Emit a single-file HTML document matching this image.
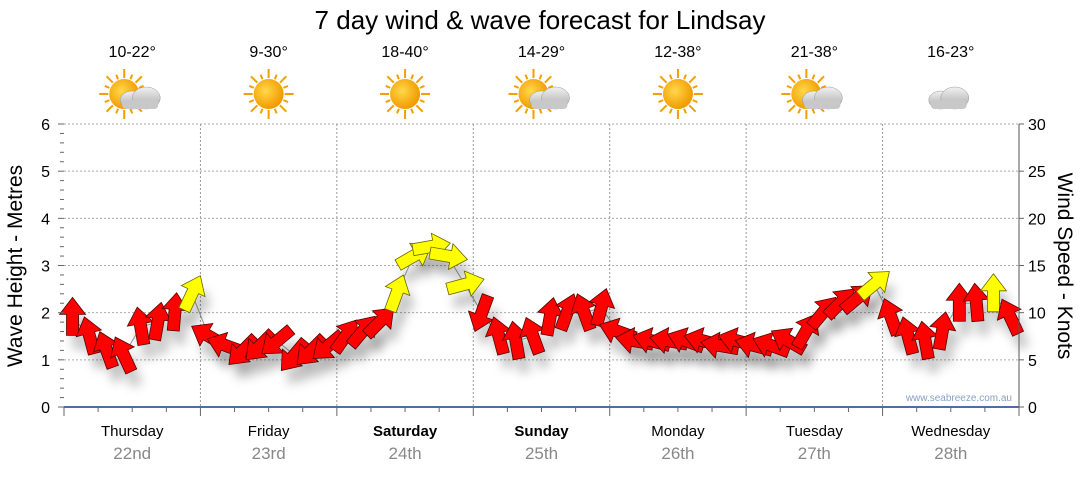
<!DOCTYPE html>
<html><head><meta charset="utf-8"><style>
body{margin:0;background:#fff;font-family:"Liberation Sans",sans-serif}
svg text{font-family:"Liberation Sans",sans-serif}
</style></head><body>
<svg id="c" width="1080" height="475" xmlns="http://www.w3.org/2000/svg">
<defs>
<filter id="sh" x="-50%" y="-50%" width="200%" height="200%"><feGaussianBlur stdDeviation="5"/></filter>
<radialGradient id="sun" cx="40%" cy="40%" r="60%"><stop offset="0" stop-color="#ffd84a"/><stop offset="1" stop-color="#f29a00"/></radialGradient>
<linearGradient id="cl" x1="0" y1="0" x2="0" y2="1"><stop offset="0" stop-color="#f0f0f0"/><stop offset="1" stop-color="#a8a8a8"/></linearGradient>
</defs>
<text x="540" y="29" font-size="26" text-anchor="middle" fill="#000">7 day wind &amp; wave forecast for Lindsay</text>
<g id="grid"></g>
<g id="marks"></g>
<g id="axes"></g>
<text x="1012" y="401" font-size="10" text-anchor="end" fill="#8aa0c0">www.seabreeze.com.au</text>
<text transform="translate(22,266) rotate(-90)" font-size="21" text-anchor="middle">Wave Height - Metres</text>
<text transform="translate(1058,266) rotate(90)" font-size="21" text-anchor="middle">Wind Speed - Knots</text>
</svg>
<script>
const days=["Thursday","Friday","Saturday","Sunday","Monday","Tuesday","Wednesday"];
const dates=["22nd","23rd","24th","25th","26th","27th","28th"];
const boldDays=[false,false,true,true,false,false,false];
const temps=["10-22°","9-30°","18-40°","14-29°","12-38°","21-38°","16-23°"];
const icons=["suncloud","sun","sun","suncloud","sun","suncloud","cloud"];
const leftTicks=[0,1,2,3,4,5,6];
const rightTicks=[0,5,10,15,20,25,30];
const windKnots=[9.5,7.5,6,5.5,8.5,9,10,12, 7.5,6.5,6,6.5,7,5.5,6,6.5, 7.5,8,9,12,16,17,16,13, 10,7.5,7,7.5,9.5,10,10,10.5, 8,7,7,7,7,7,6.5,7, 6.5,6.5,7,8,10,11,11.5,13, 9.5,7.5,7,8,11,11,12,9.5];
const windDir=[0,345,340,335,350,10,5,25, 300,290,225,225,230,220,225,230, 35,40,45,20,60,80,100,75, 200,345,350,340,10,20,340,15, 290,280,285,280,290,285,280,285, 285,290,300,30,40,45,50,50, 340,345,350,10,0,355,0,335];
const windColor=["r","r","r","r","r","r","r","y", "r","r","r","r","r","r","r","r", "r","r","r","y","y","y","y","y", "r","r","r","r","r","r","r","r", "r","r","r","r","r","r","r","r", "r","r","r","r","r","r","r","y", "r","r","r","r","r","r","y","r"];
const NS="http://www.w3.org/2000/svg";
const X0=64,X1=1019,Y0=407,Y1=124;
const dayW=(X1-X0)/7;
const yM=v=>Y0-(Y0-Y1)*v/6, yK=v=>Y0-(Y0-Y1)*v/30, xT=h=>X0+dayW*h/24;
function el(t,a,p){const e=document.createElementNS(NS,t);for(const k in a)e.setAttribute(k,a[k]);(p||document.getElementById('c')).appendChild(e);return e;}
const grid=document.getElementById('grid'),axes=document.getElementById('axes'),marks=document.getElementById('marks');
leftTicks.forEach(v=>{
 if(v>0){const g=el('line',{x1:X0,x2:X1,y1:yM(v),y2:yM(v),stroke:'#aaa','stroke-dasharray':'2,2'},grid);
 
 }
 const t=el('text',{x:50,y:yM(v)+6,'font-size':16,'text-anchor':'end'},axes);t.textContent=v;
 
 
});
for(let v=0;v<=6.001;v+=0.2){el('line',{x1:X0-(Math.abs(v-Math.round(v))<0.01?6:4),x2:X0,y1:yM(v),y2:yM(v),stroke:'#666'},axes);}
rightTicks.forEach(v=>{
 const t=el('text',{x:1028,y:yK(v)+6,'font-size':16},axes);t.textContent=v;
 
 
 el('line',{x1:X1,x2:X1+5,y1:yK(v),y2:yK(v),stroke:'#666'},axes);
});
for(let d=1;d<7;d++){const g=el('line',{x1:xT(d*24),x2:xT(d*24),y1:Y1,y2:Y0,stroke:'#999','stroke-dasharray':'2,2'},grid);
 
 }
el('line',{x1:X1,x2:X1,y1:Y1,y2:Y0,stroke:'#555'},axes);
el('line',{x1:X0,x2:X1,y1:Y0,y2:Y0,stroke:'#4a6fa0','stroke-width':2},axes);
for(let h=0;h<=168;h+=6){el('line',{x1:xT(h),x2:xT(h),y1:Y0,y2:Y0+(h%24?5:9),stroke:'#666'},axes);}
days.forEach((d,i)=>{
 const cx=xT(i*24+12);
 const a=el('text',{x:cx,y:436,'font-size':15,'text-anchor':'middle','font-weight':boldDays[i]?'bold':'normal'},axes);a.textContent=d;
 
 
 const b=el('text',{x:cx,y:459,'font-size':17,'text-anchor':'middle',fill:'#888'},axes);b.textContent=dates[i];
 
 
 const t=el('text',{x:cx,y:57,'font-size':16,'text-anchor':'middle'},axes);t.textContent=temps[i];
 
 
 const g=el('g',{transform:`translate(${cx},96)`},axes);
 
 
 if(icons[i]!=='cloud'){
  const sx=icons[i]==='sun'?0:-8;
  for(let k=0;k<16;k++){const an=k*Math.PI/8,r1=16,r2=k%2?21:25;el('line',{x1:sx+r1*Math.cos(an),y1:-2+r1*Math.sin(an),x2:sx+r2*Math.cos(an),y2:-2+r2*Math.sin(an),stroke:'#f0a000','stroke-width':2},g);}
  el('circle',{cx:sx,cy:-2,r:15,fill:'url(#sun)'},g);
 }
 if(icons[i]!=='sun'){
  const ox=icons[i]==='cloud'?-2:8;
  el('ellipse',{cx:ox-8,cy:4,rx:12,ry:9,fill:'url(#cl)',stroke:'#999','stroke-width':0.5},g);
  el('ellipse',{cx:ox+6,cy:2,rx:14,ry:11,fill:'url(#cl)',stroke:'#999','stroke-width':0.5},g);
  el('rect',{x:ox-18,y:4,width:36,height:9,rx:4,fill:'#c8c8c8'},g);
 }
});
let pts=windKnots.map((v,i)=>`${xT(i*3+1.5)},${yK(v)}`).join(' ');
const ln=el('polyline',{points:pts,fill:'none',stroke:'#999','stroke-width':1},marks);


const arrowPts="0,-20 13,-3 6,-3 6,18 -6,18 -6,-3 -13,-3";
windKnots.forEach((v,i)=>{
 el('polygon',{points:arrowPts,fill:'#000','fill-opacity':0.22,filter:'url(#sh)',transform:`translate(${xT(i*3+1.5)+6},${yK(v)+14}) rotate(${windDir[i]})`},marks);
});
windKnots.forEach((v,i)=>{
 const p=el('polygon',{points:arrowPts,fill:windColor[i]==='y'?'#ffff00':'#ff0000',stroke:windColor[i]==='y'?'#666600':'#550000','stroke-width':0.8,transform:`translate(${xT(i*3+1.5)},${yK(v)}) rotate(${windDir[i]})`},marks);
 
 
});
</script>
</body></html>
